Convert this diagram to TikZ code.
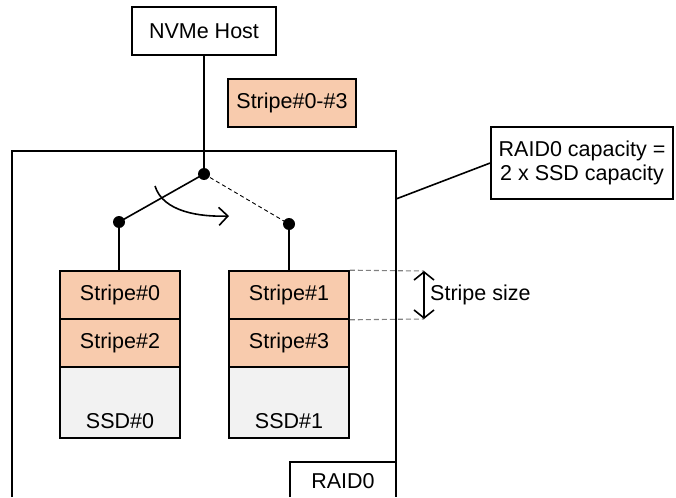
\documentclass[tikz,border=0pt]{standalone}
\usepackage{fontspec}
\setmainfont{Liberation Sans}
\usetikzlibrary{arrows.meta}
\definecolor{stripefill}{HTML}{F8CBAD}
\definecolor{ssdfill}{HTML}{F2F2F2}
\begin{document}
\begin{tikzpicture}[x=1pt,y=-1pt,
  every node/.style={font=\fontsize{21.5}{25}\selectfont, inner sep=0pt},
  box/.style={draw, line width=1.6pt, rectangle},
  stripebox/.style={box, fill=stripefill, minimum width=120pt, minimum height=48pt},
  ssdbox/.style={box, fill=ssdfill, minimum width=120pt, minimum height=71pt},
  wire/.style={line width=1.6pt},
  dot/.style={fill=black},
  guide/.style={draw=gray, line width=1.1pt, dash pattern=on 5pt off 3pt},
  barb/.tip={Straight Barb[length=8pt,width=20pt,line width=1.6pt]}
]
\useasboundingbox (0,0) rectangle (676,497);

% host and incoming data
\node[box, minimum width=144pt, minimum height=48pt] (host) at (204,31) {NVMe Host};
\node[box, fill=stripefill, minimum width=128pt, minimum height=48pt] (data) at (292,103) {Stripe\#0-\#3};

% RAID0 enclosure, open at the bottom edge
\draw[wire] (12,497) -- (12,151) -- (396,151) -- (396,497);
\draw[wire] (290,497) -- (290,462) -- (396,462);
\node (raidlbl) at (343,481) {RAID0};
\coordinate (encl) at (396,199);

% switch
\coordinate (sw) at (204,174);
\coordinate (swl) at (119,222);
\coordinate (swr) at (289,224);
\draw[wire] (host.south -| sw) -- (sw);
\draw[wire] (sw) -- (swl);
\draw[line width=0.9pt, dash pattern=on 4pt off 3pt] (sw) -- (swr);
\fill[dot] (sw) circle (6);
\fill[dot] (swl) circle (6);
\fill[dot] (swr) circle (6);
\coordinate (rotA) at (155,186);
\coordinate (rotB) at (229,216);
\draw[wire, -{Straight Barb[length=9pt,width=18pt,line width=1.6pt]}] (rotA) .. controls (163,212) and (200,217) .. (rotB);

% SSD#0
\node[stripebox] (s0) at (120,295) {Stripe\#0};
\node[stripebox] (s2) at (120,343) {Stripe\#2};
\node[ssdbox] (ssd0) at (120,402.5) {};
\node (ssd0lbl) at (120,421) {SSD\#0};

% SSD#1
\node[stripebox] (s1) at (289,295) {Stripe\#1};
\node[stripebox] (s3) at (289,343) {Stripe\#3};
\node[ssdbox] (ssd1) at (289,402.5) {};
\node (ssd1lbl) at (289,421) {SSD\#1};

\draw[wire] (swl) -- (s0.north -| swl);
\draw[wire] (swr) -- (s1.north -| swr);

% stripe size marker
\coordinate (sztop) at (424,271);
\coordinate (szbot) at (424,319);
\draw[guide] (s1.north east) -- (sztop);
\draw[guide] (s1.south east) -- (szbot);
\draw[wire, barb-barb] (sztop) -- (szbot);
\node[anchor=west] (szlbl) at (430,295) {Stripe size};

% capacity note
\node[box, minimum width=182pt, minimum height=72pt, align=center] (cap) at (582,163) {RAID0 capacity =\\[-1pt]2 x SSD capacity};
\draw[wire] (encl) -- (cap.west);
\end{tikzpicture}
\end{document}
